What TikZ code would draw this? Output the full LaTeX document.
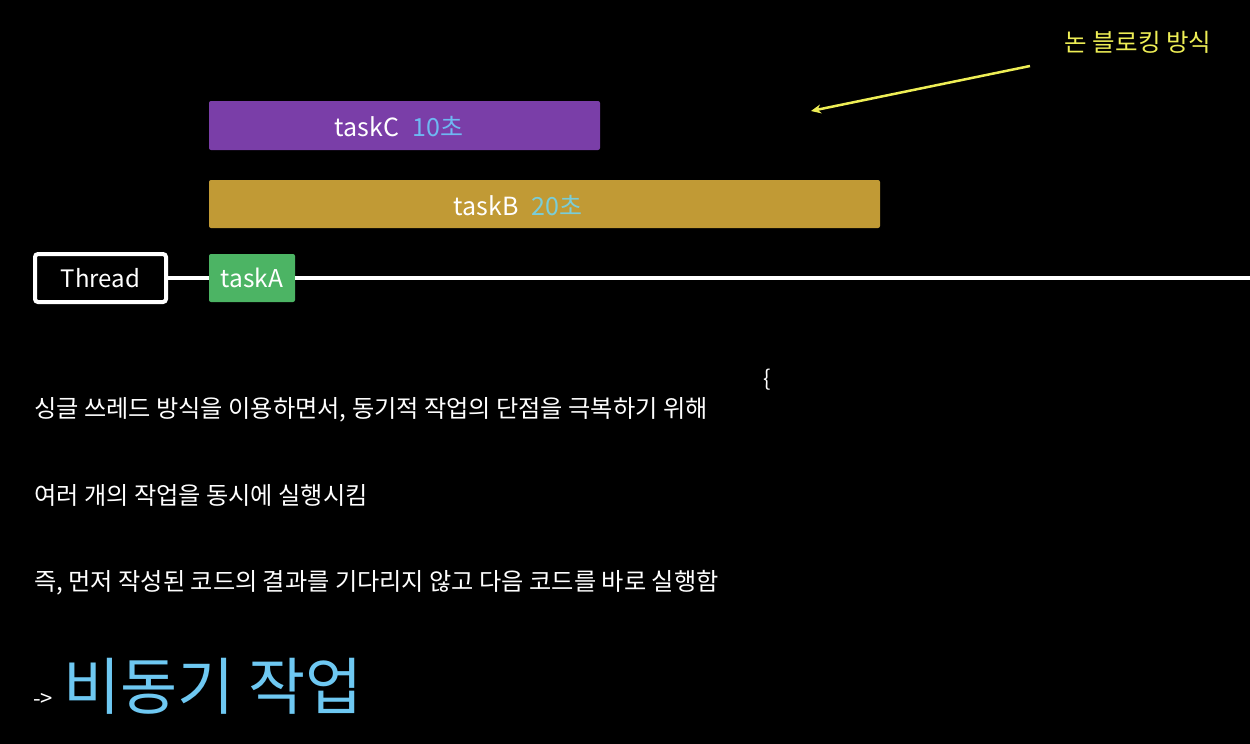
\documentclass[tikz,border=0pt]{standalone}
\usepackage{fontspec}
\setmainfont{Noto Sans CJK KR}
\usetikzlibrary{arrows.meta}
\definecolor{cpurple}{HTML}{7A3EA8}
\definecolor{cgold}{HTML}{C19A35}
\definecolor{cgreen}{HTML}{4CB464}
\definecolor{cblue}{HTML}{6EB8F2}
\definecolor{ccyan}{HTML}{7ACDD8}
\definecolor{cyel}{HTML}{EEEE55}
\definecolor{cbig}{HTML}{6EC8F2}
\tikzset{
  body/.style={anchor=west, inner sep=0pt, text=white, font=\fontsize{24.2}{28}\selectfont},
  tl/.style={inner sep=0pt, font=\fontsize{25}{29}\selectfont}
}
\begin{document}
\begin{tikzpicture}[x=1pt,y=-1pt]
\fill[black] (0,0) rectangle (1250,744);
\useasboundingbox (0,0) rectangle (1250,744);
% thread
\node[draw=white, line width=4pt, rounded corners=3pt, minimum width=131pt, minimum height=48pt, inner sep=0pt, text=white, font=\fontsize{24}{28}\selectfont] (thread) at (100.5,278) {Thread};
\node[fill=cgreen, rounded corners=2pt, minimum width=86pt, minimum height=48pt, inner sep=0pt, text=white, font=\fontsize{24.5}{28}\selectfont] (taskA) at (252,278) {taskA};
\coordinate (lineend) at (1250,278);
\draw[white, line width=4pt] (thread.east) -- (taskA.west);
\draw[white, line width=4pt] (taskA.east) -- (lineend);
% taskC
\node[fill=cpurple, rounded corners=2pt, minimum width=391pt, minimum height=49pt, inner sep=0pt] (taskC) at (404.5,125.5) {};
\node[tl, text=white] (tcl) at (367,127) {taskC};
\node[tl, text=cblue] (tcs) at (438,127) {10초};
% taskB
\node[fill=cgold, rounded corners=2pt, minimum width=671pt, minimum height=48pt, inner sep=0pt] (taskB) at (544.5,204) {};
\node[tl, text=white] (tbl) at (486,206) {taskB};
\node[tl, text=ccyan] (tbs) at (557,206) {20초};
% annotation
\node[inner sep=0pt, text=cyel, font=\fontsize{24.5}{28}\selectfont] (nb) at (1138,42) {논 블로킹 방식};
\coordinate (as) at (1030,66);
\coordinate (ae) at (811,111);
\draw[cyel, line width=2.5pt, -{Stealth[length=10pt,width=9pt]}] (as) -- (ae);
% brace
\node[inner sep=0pt, text=white, font=\fontsize{22}{26}\selectfont] (br) at (767,380) {\{};
% body
\node[body] (l1) at (34,410) {싱글 쓰레드 방식을 이용하면서, 동기적 작업의 단점을 극복하기 위해};
\node[body] (l2) at (34,495) {여러 개의 작업을 동시에 실행시킴};
\node[body] (l3) at (34,583) {즉, 먼저 작성된 코드의 결과를 기다리지 않고 다음 코드를 바로 실행함};
\node[anchor=west, inner sep=0pt, text=white, font=\fontsize{22}{26}\selectfont] (arr) at (33,700) {->};
\node[anchor=west, inner sep=0pt, text=cbig, font=\fontsize{62}{70}\selectfont] (big) at (63,686) {비동기 작업};
\end{tikzpicture}
\end{document}
